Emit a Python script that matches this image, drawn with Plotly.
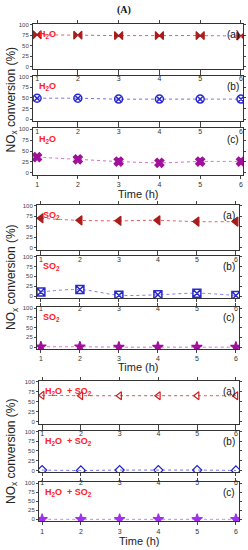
import plotly.graph_objects as go

# ---------------- data ----------------
time_h = [1, 2, 3, 4, 5, 6]
x_ticks = [1, 2, 3, 4, 5, 6]
y_ticks = [0, 25, 50, 75, 100]

h2o_a = [76, 75, 74, 74, 74, 73]
h2o_b = [49, 49, 47, 47, 47, 47]
h2o_c = [36, 31, 26, 23, 26, 26]

so2_a = [70, 65, 64, 65, 62, 62]
so2_b = [11, 17, 3, 4, 8, 2]
so2_c = [1, 1, 0, 0, 0, 0]

mix_a = [66, 65, 65, 65, 65, 65]
mix_b = [1, 0, 1, 1, 1, 0]
mix_c = [0, 0, 0, 0, 0, 0]

panel_letters = ["(a)", "(b)", "(c)"]
group_labels = ["H<sub>2</sub>O", "SO<sub>2</sub>", "H<sub>2</sub>O  + SO<sub>2</sub>"]

# ---------------- layout ----------------
W, H = 248, 550
FONT = "Liberation Sans, Arial, sans-serif"

groups = [
    dict(x=(33, 243), xr=[0.9, 6.05], panels=[(22, 67), (74, 120), (127, 174)], time_y=193),
    dict(x=(37, 239), xr=[0.9, 6.08], panels=[(204, 249), (255, 298), (307, 349)], time_y=367),
    dict(x=(39, 239), xr=[0.92, 6.08], panels=[(381, 424), (431, 473), (483, 522)], time_y=542),
]

series = [
    [h2o_a, h2o_b, h2o_c],
    [so2_a, so2_b, so2_c],
    [mix_a, mix_b, mix_c],
]
styles = [
    [dict(sym="bowtie", col="#a81c1c", line="#e06060", size=8, lw=1.2),
     dict(sym="circle-x-open", col="#2a2acc", line="#7070e0", size=8, lw=1.5),
     dict(sym="x", col="#a0109a", line="#d070d0", size=8, lw=1.2)],
    [dict(sym="triangle-left", col="#a81c1c", line="#e06060", size=8, lw=1.2),
     dict(sym="square-x-open", col="#2a2acc", line="#8080e8", size=8, lw=1.5),
     dict(sym="star", col="#a0109a", line="#d070d0", size=8, lw=1.2)],
    [dict(sym="triangle-left-open", col="#cc2222", line="#e05050", size=7, lw=1.2),
     dict(sym="diamond-open", col="#2222cc", line="#7070e8", size=7, lw=1.2),
     dict(sym="star", col="#a030f0", line="#c080f8", size=8, lw=1.2)],
]

fig = go.Figure()
layout = dict(
    width=W, height=H,
    margin=dict(l=0, r=0, t=0, b=0),
    paper_bgcolor="white", plot_bgcolor="white",
    showlegend=False,
    font=dict(family=FONT, color="#222"),
)
annotations = []

def py(px):
    return 1 - px / H

def pxx(px):
    return px / W

k = 0
for gi, g in enumerate(groups):
    for pi, (top, bot) in enumerate(g["panels"]):
        k += 1
        xa = "xaxis" if k == 1 else f"xaxis{k}"
        ya = "yaxis" if k == 1 else f"yaxis{k}"
        xref = "x" if k == 1 else f"x{k}"
        yref = "y" if k == 1 else f"y{k}"
        st = styles[gi][pi]
        fig.add_trace(go.Scatter(
            x=time_h, y=series[gi][pi], xaxis=xref, yaxis=yref,
            mode="lines+markers",
            line=dict(color=st["line"], width=1, dash="dot", shape="spline"),
            marker=dict(symbol=st["sym"], size=st["size"], color=st["col"],
                        line=dict(color=st["col"], width=st["lw"])),
        ))
        layout[xa] = dict(
            domain=[pxx(g["x"][0]), pxx(g["x"][1])], range=g["xr"],
            anchor=yref, tickvals=x_ticks, ticks="outside", ticklen=3,
            tickfont=dict(size=7, color="#333", family=FONT),
            showline=True, linecolor="#333", linewidth=1, mirror="ticks",
            showgrid=False, zeroline=False, fixedrange=True,
        )
        layout[ya] = dict(
            domain=[py(bot), py(top)], range=[-5, 102],
            anchor=xref, tickvals=y_ticks, ticks="outside", ticklen=2,
            tickfont=dict(size=6, color="#444", family=FONT),
            showline=True, linecolor="#333", linewidth=1, mirror="ticks",
            showgrid=False, zeroline=False, fixedrange=True,
        )
        annotations.append(dict(
            text=f"<b>{group_labels[gi]}</b>", xref=f"{xref} domain", yref=f"{yref} domain",
            x=0.02, y=0.93, xanchor="left", yanchor="top", showarrow=False,
            font=dict(size=9, color="#ff2020", family=FONT),
        ))
        annotations.append(dict(
            text=panel_letters[pi], xref=f"{xref} domain", yref=f"{yref} domain",
            x=0.99, y=0.93, xanchor="right", yanchor="top", showarrow=False,
            font=dict(size=10, color="#111", family=FONT),
        ))
    cx = (g["x"][0] + g["x"][1]) / 2
    annotations.append(dict(
        text="Time (h)", xref="paper", yref="paper", x=pxx(cx), y=py(g["time_y"]),
        xanchor="center", yanchor="middle", showarrow=False,
        font=dict(size=11, color="#222", family=FONT),
    ))
    top0 = g["panels"][0][0]
    bot2 = g["panels"][2][1]
    annotations.append(dict(
        text="NO<sub>x</sub> conversion (%)", xref="paper", yref="paper",
        x=pxx(12), y=py((top0 + bot2) / 2), textangle=-90,
        xanchor="center", yanchor="middle", showarrow=False,
        font=dict(size=12, color="#222", family=FONT),
    ))

annotations.append(dict(
    text="<b>(A)</b>", xref="paper", yref="paper", x=0.5, y=py(8),
    xanchor="center", yanchor="middle", showarrow=False,
    font=dict(size=10, color="#111", family="Liberation Serif, Times New Roman, serif"),
))

layout["annotations"] = annotations
fig.update_layout(**layout)
fig.write_html(
    "out.html",
    config={"displayModeBar": False, "staticPlot": True},
    post_script="document.body.style.margin='0';document.body.style.padding='0';document.body.style.overflow='hidden';",
)
